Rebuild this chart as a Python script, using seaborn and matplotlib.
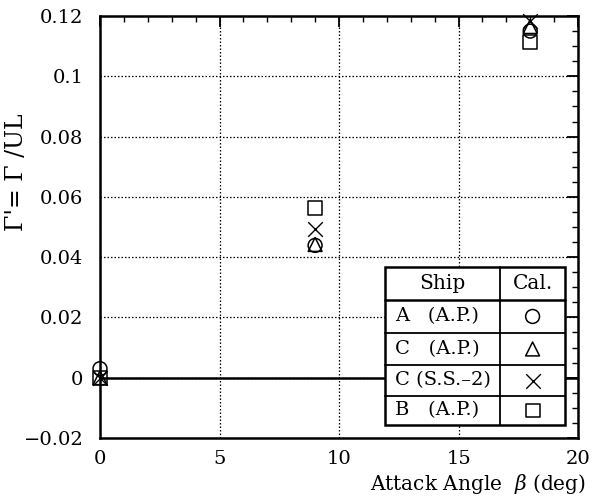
import matplotlib
matplotlib.use("Agg")
import matplotlib.pyplot as plt
from matplotlib.patches import Rectangle
from matplotlib.lines import Line2D
from matplotlib.ticker import MultipleLocator
import numpy as np
import pandas as pd
import seaborn as sns

# Non-dimensional circulation vs. attack angle
ships = ["A   (A.P.)", "C   (A.P.)", "C (S.S.\u20132)", "B   (A.P.)"]
markers = ["o", "^", "x", "s"]
beta = [0, 9, 18]
gamma_A_AP = [0.003, 0.0439, 0.115]
gamma_C_AP = [0.0, 0.0442, 0.1165]
gamma_C_SS2 = [0.0, 0.0495, 0.1185]
gamma_B_AP = [0.0, 0.0562, 0.1113]
series = [gamma_A_AP, gamma_C_AP, gamma_C_SS2, gamma_B_AP]
ytick_vals = [-0.02, 0, 0.02, 0.04, 0.06, 0.08, 0.1, 0.12]
ytick_text = ["\u22120.02", "0", "0.02", "0.04", "0.06", "0.08", "0.1", "0.12"]
xtick_vals = [0, 5, 10, 15, 20]

df = pd.DataFrame({
    "beta": np.tile(beta, len(ships)),
    "gamma": np.concatenate(series),
    "ship": np.repeat(ships, len(beta)),
})

sns.set_theme(style="white")
plt.rcParams["font.family"] = ["DejaVu Serif", "DejaVu Sans"]
plt.rcParams["mathtext.fontset"] = "dejavuserif"
plt.rcParams["text.color"] = "black"
plt.rcParams["axes.labelcolor"] = "black"

fig = plt.figure(figsize=(5.96, 4.99), dpi=100)
ax = fig.add_axes([100 / 596, 1 - 438 / 499, 478 / 596, 422 / 499])

ax.axhline(0, color="black", lw=1.8, zorder=2)

for name, mk in zip(ships, markers):
    sub = df[df["ship"] == name]
    if mk == "x":
        sns.scatterplot(data=sub, x="beta", y="gamma", marker=mk, color="black",
                        s=110, linewidth=1.0, ax=ax, zorder=4, clip_on=False)
    else:
        sns.scatterplot(data=sub, x="beta", y="gamma", marker=mk, s=100,
                        facecolor="none", edgecolor="black", linewidth=1.1,
                        ax=ax, zorder=4, clip_on=False)

ax.set_xlim(0, 20)
ax.set_ylim(-0.02, 0.12)
ax.xaxis.set_minor_locator(MultipleLocator(1))
ax.yaxis.set_minor_locator(MultipleLocator(0.005))
ax.set_yticks(ytick_vals)
ax.set_yticklabels(ytick_text)
ax.set_xticks(xtick_vals)
ax.set_xticklabels([str(v) for v in xtick_vals])

ax.grid(True, which="major", color="black", linestyle=(0, (1.2, 1.6)), lw=0.9)
ax.tick_params(which="both", direction="in", top=True, right=True,
               color="black", labelsize=14, labelcolor="black")
ax.tick_params(which="major", length=8, width=1.3, pad=12)
ax.tick_params(which="minor", length=4.5, width=1.0)
ax.tick_params(axis="x", which="major", pad=9)
for sp in ax.spines.values():
    sp.set_color("black")
    sp.set_linewidth(1.8)

ax.set_xlabel("")
ax.set_ylabel("")
fig.text(586 / 596, 1 - 484 / 499, "Attack Angle  $\\beta$ (deg)", ha="right",
         va="center", fontsize=14.5, color="black")
fig.text(17 / 596, 1 - 172 / 499, "\u0393'= \u0393 /UL", rotation=90, ha="center",
         va="center", fontsize=17, color="black")

# legend table
x0, x1, xm = 0.596, 0.973, 0.837
ys = [0.405, 0.327, 0.249, 0.173, 0.0995, 0.031]
ax.add_patch(Rectangle((x0, ys[-1]), x1 - x0, ys[0] - ys[-1], transform=ax.transAxes,
                       facecolor="white", edgecolor="black", lw=1.8, zorder=6))
ax.add_line(Line2D([xm, xm], [ys[-1], ys[0]], transform=ax.transAxes, color="black",
                   lw=1.3, zorder=7))
for k, yv in enumerate(ys[1:-1]):
    ax.add_line(Line2D([x0, x1], [yv, yv], transform=ax.transAxes, color="black",
                       lw=1.8 if k == 0 else 1.3, zorder=7))
cy = (ys[0] + ys[1]) / 2
ax.text((x0 + xm) / 2, cy, "Ship", transform=ax.transAxes, ha="center", va="center",
        fontsize=14.5, color="black", zorder=8)
ax.text((xm + x1) / 2, cy, "Cal.", transform=ax.transAxes, ha="center", va="center",
        fontsize=14.5, color="black", zorder=8)
for i, (name, mk) in enumerate(zip(ships, markers)):
    yc = (ys[i + 1] + ys[i + 2]) / 2
    ax.text(x0 + 0.022, yc, name, transform=ax.transAxes, ha="left", va="center",
            fontsize=14, color="black", zorder=8)
    if mk == "x":
        ax.scatter([(xm + x1) / 2], [yc], marker=mk, s=110, color="black",
                   linewidth=1.0, transform=ax.transAxes, zorder=8)
    else:
        ax.scatter([(xm + x1) / 2], [yc], marker=mk, s=100, facecolor="none",
                   edgecolor="black", linewidth=1.1, transform=ax.transAxes, zorder=8)

fig.savefig("out.png", dpi=100)
